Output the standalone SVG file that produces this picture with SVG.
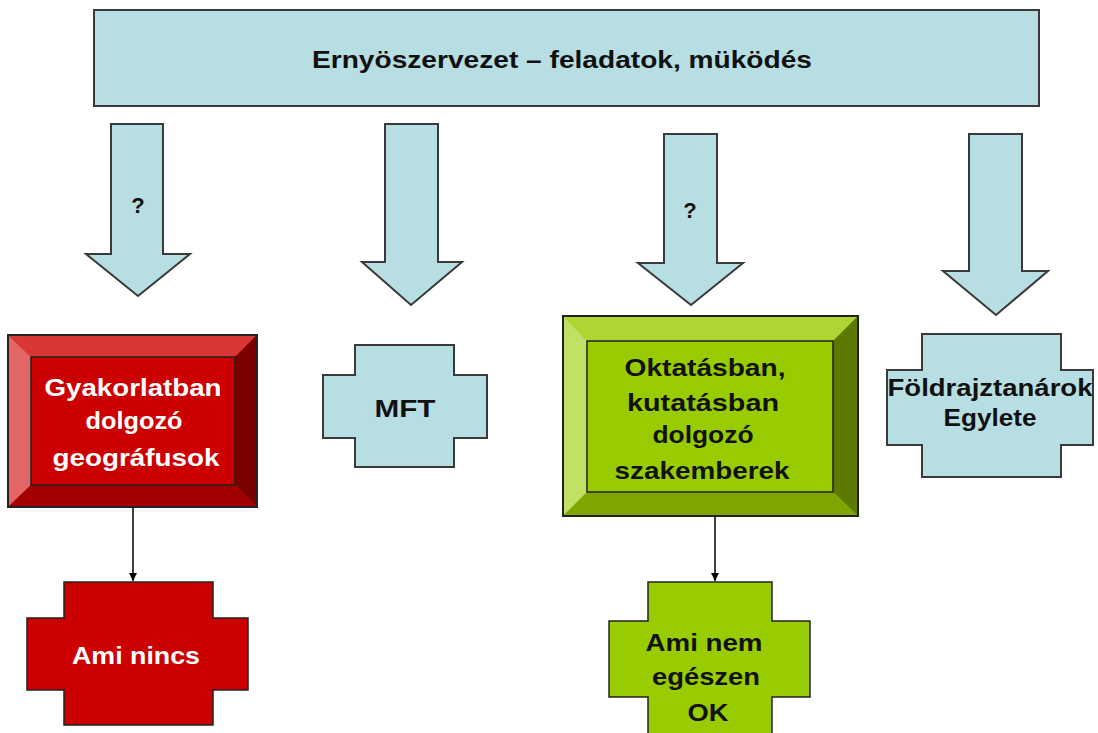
<svg xmlns="http://www.w3.org/2000/svg" width="1098" height="733" viewBox="0 0 1098 733">
<style>
.t{font-family:"Liberation Sans",Arial,sans-serif;font-size:24px;font-weight:bold;text-anchor:middle}
.dk{fill:#111}
.wh{fill:#fff}
.blue{fill:#B7DEE2;stroke:#3a3a3a;stroke-width:2}
.edge{fill:none;stroke:#222;stroke-width:2}
.conn{stroke:#000;stroke-width:1.5;fill:none}
</style>
<defs>
<marker id="ah" markerWidth="10" markerHeight="10" refX="9" refY="5" orient="auto" markerUnits="userSpaceOnUse">
<path d="M1,1 L9,5 L1,9 Z" fill="#000"/>
</marker>
</defs>
<rect width="1098" height="733" fill="#fff"/>

<g id="banner">
<rect class="blue" x="94" y="10" width="945" height="96"/>
<text class="t dk" x="562" y="68" textLength="500" lengthAdjust="spacingAndGlyphs">Ernyöszervezet – feladatok, müködés</text>
</g>

<g id="arrow1">
<path class="blue" d="M111,124 H163 V254 H190 L138,296 L86,254 H111 Z"/>
<text class="t dk" x="138" y="213" style="font-size:22px">?</text>
</g>
<g id="arrow2">
<path class="blue" d="M385,124 H438 V262 H462 L411,305 L362,262 H385 Z"/>
</g>
<g id="arrow3">
<path class="blue" d="M664,134 H717 V263 H743 L691,305 L638,263 H664 Z"/>
<text class="t dk" x="690" y="218" style="font-size:22px">?</text>
</g>
<g id="arrow4">
<path class="blue" d="M969,134 H1022 V271 H1048 L996,315 L943,271 H969 Z"/>
</g>

<g id="gyakorlat">
<rect x="8" y="335" width="249" height="172" fill="#CC0000"/>
<polygon points="8,335 257,335 235,357 31,357" fill="#D93636"/>
<polygon points="8,335 31,357 31,485 8,507" fill="#E26666"/>
<polygon points="257,335 257,507 235,485 235,357" fill="#7A0000"/>
<polygon points="8,507 31,485 235,485 257,507" fill="#A30000"/>
<rect x="31" y="357" width="204" height="128" fill="#CC0000" stroke="#222" stroke-width="1.5"/>
<rect class="edge" x="8" y="335" width="249" height="172"/>
<text class="t wh" x="133" y="396" textLength="177" lengthAdjust="spacingAndGlyphs">Gyakorlatban</text>
<text class="t wh" x="134" y="429" textLength="97" lengthAdjust="spacingAndGlyphs">dolgozó</text>
<text class="t wh" x="136" y="466" textLength="167" lengthAdjust="spacingAndGlyphs">geográfusok</text>
</g>

<g id="mft">
<path class="blue" d="M355,345 H454 V375 H487 V438 H454 V467 H355 V438 H323 V375 H355 Z"/>
<text class="t dk" x="405" y="417" textLength="61" lengthAdjust="spacingAndGlyphs">MFT</text>
</g>

<g id="oktatas">
<rect x="563" y="316" width="295" height="200" fill="#99CC00"/>
<polygon points="563,316 858,316 833,341 587,341" fill="#ADD633"/>
<polygon points="563,316 587,341 587,492 563,516" fill="#C2E066"/>
<polygon points="858,316 858,516 833,492 833,341" fill="#5C7A00"/>
<polygon points="563,516 587,492 833,492 858,516" fill="#7FA600"/>
<rect x="587" y="341" width="246" height="151" fill="#99CC00" stroke="#222" stroke-width="1.5"/>
<rect class="edge" x="563" y="316" width="295" height="200"/>
<text class="t dk" x="705" y="376" textLength="161" lengthAdjust="spacingAndGlyphs">Oktatásban,</text>
<text class="t dk" x="703" y="411" textLength="152" lengthAdjust="spacingAndGlyphs">kutatásban</text>
<text class="t dk" x="703" y="443" textLength="101" lengthAdjust="spacingAndGlyphs">dolgozó</text>
<text class="t dk" x="702" y="479" textLength="175" lengthAdjust="spacingAndGlyphs">szakemberek</text>
</g>

<g id="foldrajz">
<path class="blue" d="M922,334 H1061 V370 H1093 V445 H1061 V477 H922 V445 H887 V370 H922 Z"/>
<text class="t dk" x="990" y="396" textLength="205" lengthAdjust="spacingAndGlyphs">Földrajztanárok</text>
<text class="t dk" x="990" y="426" textLength="93" lengthAdjust="spacingAndGlyphs">Egylete</text>
</g>

<g id="aminincs">
<path d="M64,582 H213 V618 H248 V690 H213 V725 H64 V690 H27 V618 H64 Z" fill="#CC0000" stroke="#222" stroke-width="1.5"/>
<text class="t wh" x="136" y="664" textLength="128" lengthAdjust="spacingAndGlyphs">Ami nincs</text>
</g>

<g id="aminemok">
<path d="M648,582 H772 V621 H810 V697 H772 V740 H648 V697 H609 V621 H648 Z" fill="#99CC00" stroke="#222" stroke-width="1.5"/>
<text class="t dk" x="704" y="651" textLength="117" lengthAdjust="spacingAndGlyphs">Ami nem</text>
<text class="t dk" x="706" y="685" textLength="108" lengthAdjust="spacingAndGlyphs">egészen</text>
<text class="t dk" x="708" y="721" textLength="41" lengthAdjust="spacingAndGlyphs">OK</text>
</g>

<g id="connectors">
<line class="conn" x1="133" y1="507" x2="133" y2="581" marker-end="url(#ah)"/>
<line class="conn" x1="715" y1="516" x2="715" y2="581" marker-end="url(#ah)"/>
</g>
</svg>
